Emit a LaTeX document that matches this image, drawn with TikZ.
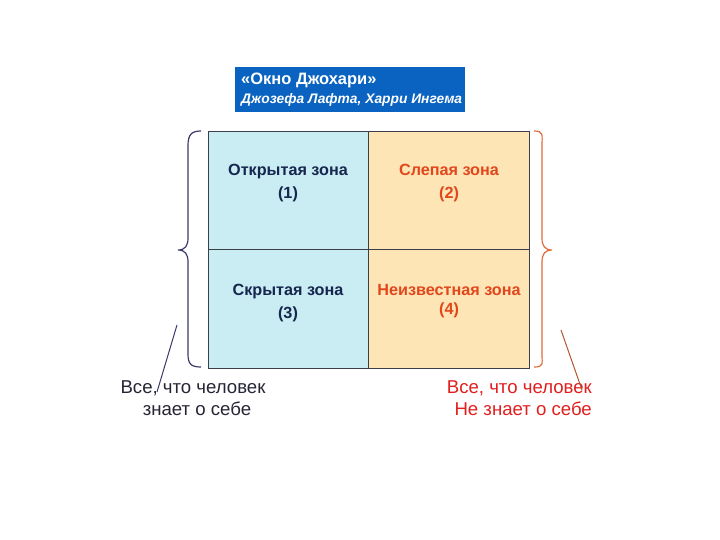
\documentclass[tikz,border=0pt]{standalone}
\usepackage{fontspec}
\setmainfont{Liberation Sans}
\begin{document}
\begin{tikzpicture}[x=1pt,y=-1pt,
  cell/.style={draw=gridc,line width=0.9pt,minimum width=160.5pt,minimum height=118.5pt,inner sep=0pt,outer sep=0pt,anchor=north west},
  celltxt/.style={font=\fontsize{16.2}{19}\selectfont\bfseries,anchor=base,inner sep=0pt},
  bottxt/.style={font=\fontsize{18.6}{24}\selectfont,inner sep=0pt},
  bracep/.style={line width=1.2pt},
]
\definecolor{gridc}{HTML}{3A3F48}
\definecolor{cyanc}{HTML}{C9EDF3}
\definecolor{orangec}{HTML}{FDE5B6}
\definecolor{navyc}{HTML}{16264F}
\definecolor{redorc}{HTML}{E2471C}
\definecolor{titleblue}{HTML}{0A63C0}
\definecolor{leftc}{HTML}{3A3A6A}
\definecolor{rightc}{HTML}{E06A3A}
\definecolor{redtxt}{HTML}{E21E1E}
\definecolor{lefttxt}{HTML}{252535}
\useasboundingbox (0,0) rectangle (720,540);
\fill[white] (0,0) rectangle (720,540);
% title
\node[fill=titleblue,minimum width=230pt,minimum height=45pt,anchor=north west,inner sep=0pt] (title) at (235,67) {};
\node[text=white,anchor=base west,inner sep=0pt,font=\fontsize{16.5}{19}\selectfont\bfseries] (t1) at (241,85) {«Окно Джохари»};
\node[text=white,anchor=base west,inner sep=0pt,font=\fontsize{13.8}{17}\selectfont\bfseries\itshape] (t2) at (241,104) {Джозефа Лафта, Харри Ингема};
% grid
\node[cell,fill=cyanc] (c1) at (208,131) {};
\node[cell,fill=orangec] (c2) at (368.5,131) {};
\node[cell,fill=cyanc] (c3) at (208,249.5) {};
\node[cell,fill=orangec] (c4) at (368.5,249.5) {};
\node[celltxt,text=navyc] (l1) at (288,176) {Открытая зона};
\node[celltxt,text=navyc] (n1) at (288,199) {(1)};
\node[celltxt,text=redorc] (l2) at (449,176) {Слепая зона};
\node[celltxt,text=redorc] (n2) at (449,199) {(2)};
\node[celltxt,text=navyc] (l3) at (288,295) {Скрытая зона};
\node[celltxt,text=navyc] (n3) at (288,318) {(3)};
\node[celltxt,text=redorc] (l4) at (449,295) {Неизвестная зона};
\node[celltxt,text=redorc] (n4) at (449,314) {(4)};
% braces
\draw[bracep,draw=leftc] (201,131) .. controls (191,131) and (188,135) .. (188,146) -- (188,238) .. controls (188,246) and (185,250) .. (178,250) .. controls (185,250) and (188,254) .. (188,262) -- (188,354) .. controls (188,364) and (191,367) .. (201,367);
\draw[bracep,draw=rightc] (534,131) .. controls (544,131) and (542,135) .. (542,146) -- (542,238) .. controls (542,246) and (545,250) .. (552,250) .. controls (545,250) and (542,254) .. (542,262) -- (542,354) .. controls (542,364) and (544,367) .. (534,367);
% bottom texts
\node[bottxt,text=lefttxt,anchor=base] (bl1) at (193,393) {Все, что человек};
\node[bottxt,text=lefttxt,anchor=base] (bl2) at (197,415) {знает о себе};
\node[bottxt,text=redtxt,anchor=base east] (br1) at (592,393) {Все, что человек};
\node[bottxt,text=redtxt,anchor=base east] (br2) at (592,415) {Не знает о себе};
% pointer lines
\coordinate (pl) at (177,325);
\coordinate (pr) at (561,330);
\draw[leftc,line width=1pt] (pl) -- (157,392);
\draw[rightc!80!black,line width=1pt] (pr) -- (582,390);
\end{tikzpicture}
\end{document}
